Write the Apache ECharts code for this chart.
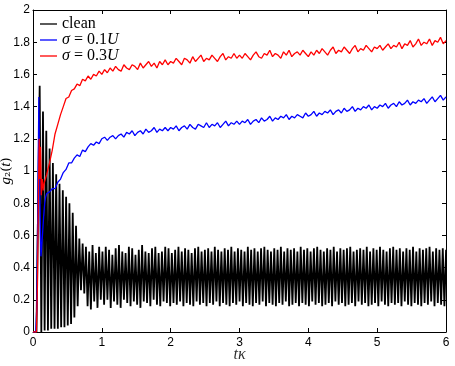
<!DOCTYPE html>
<html>
<head>
<meta charset="utf-8">
<script src="https://cdn.jsdelivr.net/npm/echarts@6/dist/echarts.min.js"></script>
<style>
  html, body { margin: 0; padding: 0; background: #fff; }
  #chart { width: 455px; height: 366px; }
</style>
</head>
<body>
<div id="chart"></div>
<script>
// series names as shown in the legend
const seriesNames = ['clean', 'σ = 0.1U', 'σ = 0.3U'];

// clean: oscillation read as alternating troughs / peaks, half period 0.024
const cleanStart = 0.073;
const cleanHalf = 0.024;
const cleanTroughs = [
  0.00,0.00,0.01,0.01,0.02,0.02,0.02,0.03,0.03,0.04,0.05,0.09,0.16,0.26,0.24,0.16,0.14,0.19,0.15,0.20,
  0.17,0.20,0.15,0.19,0.17,0.15,0.20,0.18,0.16,0.19,0.17,0.15,0.19,0.18,0.16,0.20,0.17,0.16,0.19,0.18,
  0.16,0.18,0.17,0.19,0.16,0.18,0.17,0.16,0.19,0.17,0.18,0.16,0.18,0.17,0.19,0.16,0.18,0.17,0.16,0.18,
  0.17,0.19,0.16,0.18,0.17,0.16,0.18,0.17,0.19,0.16,0.18,0.17,0.16,0.18,0.17,0.19,0.16,0.17,0.18,0.16,
  0.18,0.17,0.16,0.19,0.17,0.18,0.16,0.17,0.18,0.16,0.19,0.17,0.18,0.16,0.17,0.18,0.16,0.19,0.17,0.18,
  0.16,0.17,0.18,0.16,0.19,0.17,0.16,0.18,0.17,0.18,0.16,0.19,0.17,0.16,0.18,0.17,0.16,0.18,0.17,0.19,0.16,0.18,0.17,0.16
];
const cleanPeaks = [
  1.53,1.37,1.25,1.14,1.05,0.98,0.92,0.88,0.84,0.80,0.74,0.66,0.58,0.55,0.53,0.50,0.54,0.49,0.53,0.50,
  0.53,0.51,0.48,0.52,0.54,0.50,0.49,0.53,0.52,0.48,0.51,0.54,0.50,0.49,0.52,0.53,0.49,0.50,0.53,0.52,
  0.49,0.51,0.53,0.50,0.52,0.51,0.49,0.52,0.53,0.50,0.51,0.52,0.50,0.53,0.51,0.50,0.52,0.51,0.53,0.50,
  0.52,0.51,0.50,0.53,0.51,0.52,0.50,0.52,0.53,0.51,0.50,0.52,0.51,0.53,0.50,0.52,0.51,0.52,0.50,0.53,
  0.51,0.52,0.50,0.52,0.53,0.51,0.50,0.52,0.51,0.53,0.50,0.52,0.51,0.52,0.53,0.50,0.51,0.52,0.51,0.53,
  0.50,0.52,0.51,0.53,0.51,0.50,0.52,0.53,0.51,0.52,0.50,0.52,0.51,0.53,0.50,0.52,0.51,0.52,0.53,0.50,0.52,0.51,0.52,0.51
];

// noisy curves: early part with explicit times, then a regular grid from 0.2 step 0.04
const gridStart = 0.2;
const gridStep = 0.04;

const blueEarlyT = [0, 0.04, 0.055, 0.07, 0.085, 0.095, 0.105, 0.115, 0.125, 0.14, 0.155, 0.17, 0.185];
const blueEarlyV = [0, 0, 0.15, 0.80, 1.46, 1.00, 0.70, 0.47, 0.52, 0.62, 0.72, 0.80, 0.84];
const blueGridV = [
  0.86,0.87,0.89,0.89,0.93,0.95,0.99,1.01,1.05,1.05,1.08,1.10,1.09,1.13,1.12,1.15,1.17,1.16,1.18,1.17,1.20,
  1.21,1.19,1.21,1.22,1.20,1.22,1.23,1.21,1.24,1.23,1.25,1.22,1.24,1.25,1.23,1.26,1.24,1.25,1.27,1.24,1.26,1.25,1.27,1.25,1.27,
  1.26,1.28,1.25,1.27,1.28,1.26,1.29,1.27,1.26,1.29,1.28,1.27,1.30,1.27,1.29,1.28,1.30,1.27,1.29,1.31,1.28,1.30,1.29,1.31,1.29,
  1.31,1.30,1.32,1.29,1.31,1.32,1.30,1.33,1.31,1.32,1.34,1.31,1.33,1.32,1.34,1.33,1.35,1.32,1.34,1.33,1.35,1.34,1.33,1.36,1.34,
  1.35,1.37,1.34,1.36,1.35,1.37,1.36,1.38,1.35,1.37,1.38,1.36,1.39,1.37,1.38,1.40,1.37,1.39,1.38,1.40,1.39,1.41,1.38,1.40,1.39,
  1.41,1.40,1.42,1.39,1.41,1.42,1.40,1.43,1.41,1.42,1.44,1.41,1.43,1.42,1.44,1.43,1.45,1.42,1.44,1.46,1.43,1.45,1.47,1.44,1.46
];

const redEarlyT = [0, 0.05, 0.065, 0.08, 0.09, 0.10, 0.11, 0.12, 0.135, 0.15, 0.165, 0.18];
const redEarlyV = [0, 0, 0.30, 0.90, 1.20, 0.95, 1.15, 0.85, 0.95, 0.88, 0.93, 0.95];
const redGridV = [
  0.98,1.05,1.13,1.23,1.29,1.35,1.40,1.45,1.46,1.50,1.51,1.54,1.53,1.57,1.56,1.59,1.57,1.60,1.59,1.62,1.60,
  1.63,1.61,1.64,1.62,1.65,1.63,1.62,1.66,1.64,1.63,1.66,1.65,1.63,1.67,1.64,1.66,1.68,1.65,1.67,1.64,1.68,1.66,1.69,1.66,1.68,
  1.67,1.70,1.68,1.66,1.70,1.69,1.67,1.71,1.68,1.70,1.72,1.68,1.70,1.69,1.72,1.70,1.68,1.71,1.73,1.69,1.71,1.70,1.73,1.70,1.72,
  1.70,1.73,1.71,1.69,1.72,1.74,1.71,1.70,1.73,1.72,1.75,1.71,1.73,1.72,1.70,1.74,1.72,1.75,1.71,1.73,1.74,1.72,1.75,1.73,1.71,
  1.74,1.72,1.75,1.73,1.76,1.74,1.72,1.75,1.77,1.73,1.75,1.74,1.77,1.75,1.73,1.76,1.78,1.74,1.76,1.75,1.78,1.76,1.74,1.77,1.76,
  1.78,1.75,1.77,1.79,1.76,1.78,1.77,1.80,1.76,1.79,1.78,1.81,1.77,1.79,1.82,1.78,1.80,1.79,1.82,1.78,1.81,1.80,1.83,1.79,1.81
];

function buildNoisy(earlyT, earlyV, gridV) {
  const out = earlyT.map((t, i) => [t, earlyV[i]]);
  gridV.forEach((v, i) => out.push([+(gridStart + i * gridStep).toFixed(3), v]));
  return out;
}

const cleanData = [[0, 0], [0.05, 0]];
cleanPeaks.forEach((p, m) => {
  const t0 = cleanStart + 2 * m * cleanHalf;
  cleanData.push([+t0.toFixed(4), cleanTroughs[m]]);
  cleanData.push([+(t0 + cleanHalf).toFixed(4), p]);
});

const serif = 'Liberation Serif';
const sans = 'Liberation Sans';

const chart = echarts.init(document.getElementById('chart'));

const frameAxis = {
  axisLine: { show: true, onZero: false, lineStyle: { color: '#000', width: 1 } },
  axisTick: { show: true, inside: true, length: 4, lineStyle: { color: '#000' } },
  splitLine: { show: false }
};

chart.setOption({
  animation: false,
  backgroundColor: '#fff',
  grid: { left: 33, right: 9, top: 10, bottom: 34, containLabel: false, outerBoundsMode: 'none' },
  legend: {
    data: seriesNames,
    orient: 'vertical',
    left: 40,
    top: 16,
    padding: 0,
    icon: 'rect',
    itemWidth: 17,
    itemHeight: 1.3,
    itemGap: 0,
    textStyle: {
      fontFamily: serif,
      fontSize: 16,
      lineHeight: 16,
      color: '#000',
      rich: {
        i: { fontFamily: serif, fontStyle: 'italic', fontSize: 16, color: '#000' },
        n: { fontFamily: serif, fontSize: 16, color: '#000' }
      }
    },
    formatter: function (name) {
      if (name === 'clean') return '{n|clean}';
      const parts = name.split(' = ');
      return '{i|σ}{n| = ' + parts[1].replace('U', '') + '}{i|U}';
    }
  },
  xAxis: [
    Object.assign({
      type: 'value', min: 0, max: 6, interval: 1, position: 'bottom',
      axisLabel: { color: '#000', fontFamily: sans, fontSize: 12, margin: 5 },
      name: '{i|tκ}',
      nameLocation: 'middle',
      nameGap: 15,
      nameMoveOverlap: false,
      nameTextStyle: { rich: { i: { fontFamily: serif, fontStyle: 'italic', fontSize: 16, color: '#333' } } }
    }, frameAxis),
    Object.assign({
      type: 'value', min: 0, max: 6, interval: 1, position: 'top',
      axisLabel: { show: false }
    }, frameAxis)
  ],
  yAxis: [
    Object.assign({
      type: 'value', min: 0, max: 2, interval: 0.2, position: 'left',
      axisLabel: { color: '#000', fontFamily: sans, fontSize: 12, margin: 3 },
      name: '{i|g}{n|₂(}{i|t}{n|)}',
      nameLocation: 'middle',
      nameGap: 19,
      nameRotate: 90,
      nameMoveOverlap: false,
      nameTextStyle: {
        rich: {
          i: { fontFamily: serif, fontStyle: 'italic', fontSize: 15, color: '#000' },
          n: { fontFamily: 'DejaVu Serif', fontSize: 13, color: '#000' }
        }
      }
    }, frameAxis),
    Object.assign({
      type: 'value', min: 0, max: 2, interval: 0.2, position: 'right',
      axisLabel: { show: false }
    }, frameAxis)
  ],
  series: [
    {
      name: seriesNames[0], type: 'line', symbol: 'none', data: cleanData,
      xAxisIndex: 0, yAxisIndex: 0,
      lineStyle: { color: '#000', width: 1.8 }, itemStyle: { color: '#000' }, z: 2
    },
    {
      name: seriesNames[1], type: 'line', symbol: 'none',
      data: buildNoisy(blueEarlyT, blueEarlyV, blueGridV),
      xAxisIndex: 0, yAxisIndex: 0,
      lineStyle: { color: '#0000ff', width: 1.3 }, itemStyle: { color: '#0000ff' }, z: 3
    },
    {
      name: seriesNames[2], type: 'line', symbol: 'none',
      data: buildNoisy(redEarlyT, redEarlyV, redGridV),
      xAxisIndex: 0, yAxisIndex: 0,
      lineStyle: { color: '#ff0000', width: 1.3 }, itemStyle: { color: '#ff0000' }, z: 4
    }
  ]
});
</script>
</body>
</html>
